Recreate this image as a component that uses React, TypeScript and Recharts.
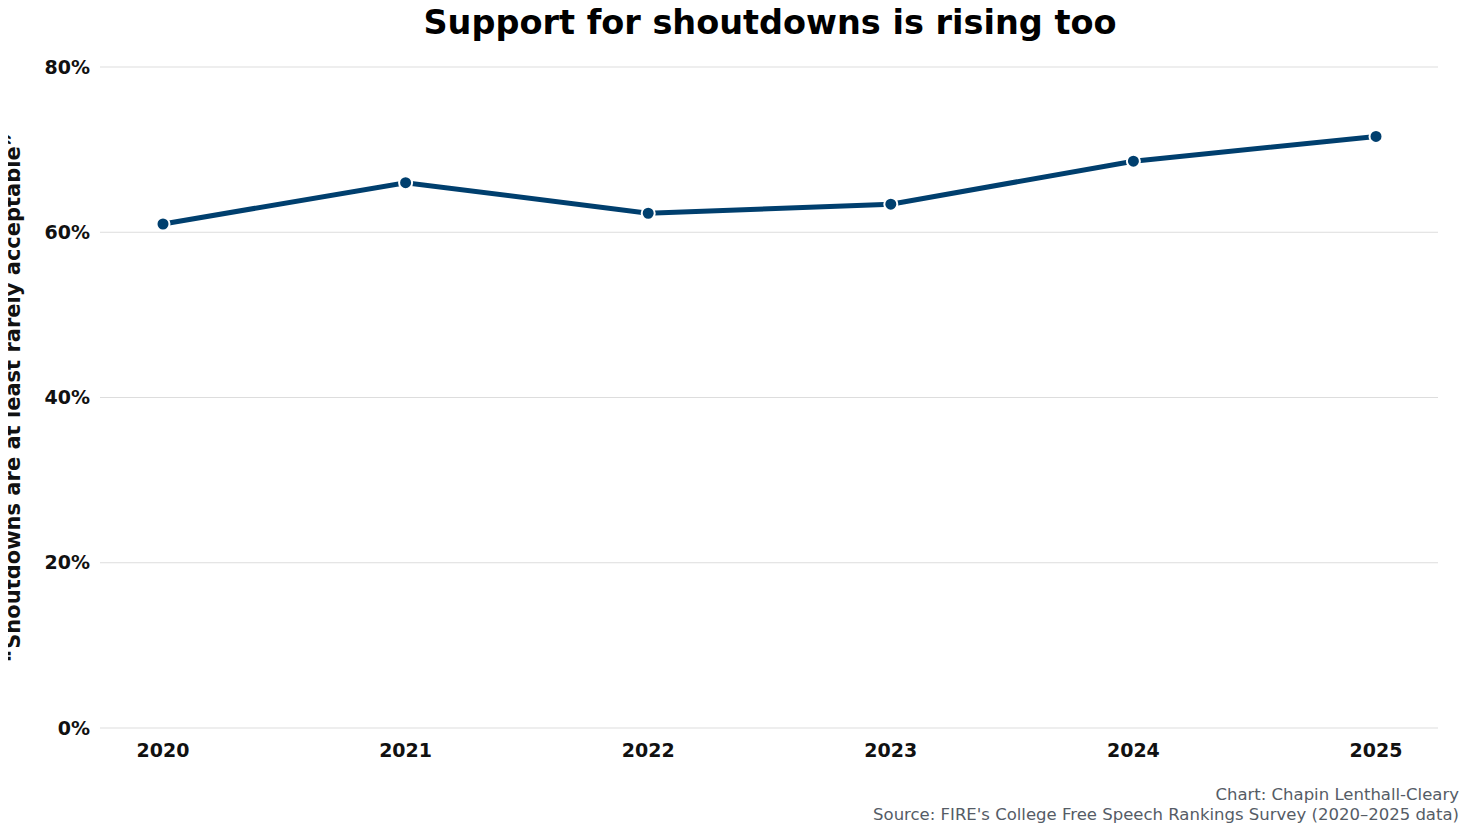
import { LineChart, Line, XAxis, YAxis, CartesianGrid } from 'recharts'

const years = ['2020', '2021', '2022', '2023', '2024', '2025']
const support = [61.0, 66.0, 62.3, 63.4, 68.6, 71.6]
const yTicks = [0, 20, 40, 60, 80]

const data = years.map((year, i) => ({ year, value: support[i] }))

const font = 'DejaVu Sans, sans-serif'

function App() {
  return (
    <div style={{ position: 'relative', width: 1474, height: 834, margin: -8, fontFamily: font, background: '#fff' }}>
      <div
        style={{
          position: 'absolute',
          top: 3,
          left: 0,
          width: 1540,
          textAlign: 'center',
          fontSize: 33.5,
          fontWeight: 'bold',
        }}
      >
        Support for shoutdowns is rising too
      </div>
      <LineChart width={1474} height={834} data={data} margin={{ top: 67, right: 36, bottom: 76, left: 0 }}>
        <CartesianGrid vertical={false} stroke="#dddddd" strokeWidth={1.2} />
        <XAxis
          dataKey="year"
          axisLine={false}
          tickLine={false}
          padding={{ left: 63, right: 62 }}
          height={30}
          tick={{ fontSize: 19, fontWeight: 'bold', fill: '#111', fontFamily: font, dy: 8 }}
        />
        <YAxis
          domain={[0, 80]}
          ticks={yTicks}
          width={100}
          axisLine={false}
          tickLine={false}
          tickFormatter={(v: number) => `${v}%`}
          tick={{ fontSize: 19, fontWeight: 'bold', fill: '#111', fontFamily: font, dx: -2 }}
          label={{
            value: '\u201cShoutdowns are at least rarely acceptable\u201d',
            angle: -90,
            position: 'insideLeft',
            dx: 8,
            style: { fontSize: 21, fontWeight: 'bold', fill: '#111', fontFamily: font, textAnchor: 'middle' },
          }}
        />
        <Line
          type="linear"
          dataKey="value"
          stroke="#003f6e"
          strokeWidth={5}
          dot={{ r: 6.5, fill: '#003f6e', stroke: '#fff', strokeWidth: 2 }}
          isAnimationActive={false}
        />
      </LineChart>
      <div
        style={{
          position: 'absolute',
          right: 15,
          top: 785,
          textAlign: 'right',
          fontSize: 16.5,
          color: '#555c66',
          lineHeight: '20px',
        }}
      >
        Chart: Chapin Lenthall-Cleary
        <br />
        Source: FIRE's College Free Speech Rankings Survey (2020–2025 data)
      </div>
    </div>
  )
}

export default App
